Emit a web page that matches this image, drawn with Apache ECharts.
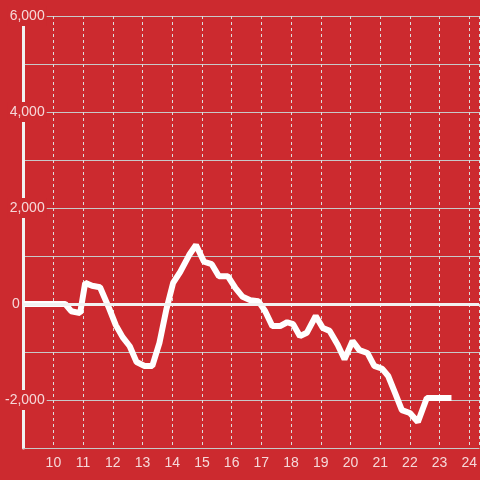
<!DOCTYPE html>
<html>
<head>
<meta charset="utf-8">
<script src="https://cdn.jsdelivr.net/npm/echarts@6/dist/echarts.min.js"></script>
<style>html,body{margin:0;padding:0;background:#cc2a2f;}#c{width:480px;height:480px;}</style>
</head>
<body>
<div id="c"></div>
<script>
var hours = [9.0, 10.4, 10.6, 10.9, 11.07, 11.3, 11.57, 11.87, 12.1, 12.33, 12.57, 12.8, 13.07, 13.33, 13.57, 13.8, 14.03, 14.27, 14.57, 14.8, 15.07, 15.33, 15.57, 15.87, 16.13, 16.37, 16.63, 16.9, 17.13, 17.37, 17.63, 17.87, 18.07, 18.3, 18.53, 18.83, 19.07, 19.3, 19.57, 19.8, 20.07, 20.3, 20.57, 20.8, 21.07, 21.27, 21.5, 21.73, 22.0, 22.27, 22.57, 23.4];
var values = [0, 0, -150, -190, 440, 380, 350, -80, -440, -690, -880, -1210, -1290, -1290, -810, -120, 440, 670, 1020, 1230, 880, 830, 580, 580, 330, 150, 80, 60, -150, -460, -460, -380, -420, -670, -600, -250, -500, -560, -850, -1150, -770, -960, -1020, -1290, -1350, -1500, -1850, -2210, -2270, -2460, -1960, -1960];
var yLabels = [-2000, 0, 2000, 4000, 6000];

var BG = '#cc2a2f';
var TXT = 'rgba(255,255,255,0.82)';
var data = hours.map(function (h, i) { return [h, values[i]]; });
function fmt(v) { return v.toLocaleString('en-US'); }

var chart = echarts.init(document.getElementById('c'), null, {renderer: 'canvas'});
chart.setOption({
  backgroundColor: BG,
  animation: false,
  grid: {left: 20, right: 0, top: 16, bottom: 32, containLabel: false},
  xAxis: {
    type: 'value', min: 9, max: 24.33, interval: 1,
    axisLine: {show: true, onZero: false, lineStyle: {color: '#c8c8c8', width: 1}},
    axisTick: {show: false},
    splitLine: {show: true, lineStyle: {color: '#dddddd', width: 1, type: [3, 3]}},
    axisLabel: {
      color: TXT, fontSize: 14, fontFamily: 'Liberation Sans, Arial', margin: 8,
      showMaxLabel: false, showMinLabel: false,
      formatter: function (v) { return (Math.abs(v - Math.round(v)) < 1e-6 && v >= 10) ? String(Math.round(v)) : ''; }
    }
  },
  yAxis: {
    type: 'value', min: -3000, max: 6000, interval: 1000,
    axisLine: {show: true, lineStyle: {color: '#f2f2f2', width: 3}},
    axisTick: {show: false},
    splitLine: {show: true, lineStyle: {color: '#c8c8c8', width: 1}},
    axisLabel: {
      color: TXT, fontSize: 14, fontFamily: 'Liberation Sans, Arial', margin: -23,
      formatter: function (v) {
        if (yLabels.indexOf(v) < 0) return '';
        if (v === 0) return '{z|0}';
        return '{a|' + fmt(v) + '}';
      },
      rich: {
        a: {color: TXT, fontSize: 14, fontFamily: 'Liberation Sans, Arial', backgroundColor: BG, padding: [3, 2, 3, 2]},
        z: {color: TXT, fontSize: 14, fontFamily: 'Liberation Sans, Arial', padding: [0, 27, 0, 0]}
      }
    }
  },
  series: [{
    type: 'line', data: data, showSymbol: false, smooth: false,
    lineStyle: {color: '#ffffff', width: 6},
    z: 3,
    markLine: {
      silent: true, symbol: 'none', label: {show: false},
      lineStyle: {color: '#f2f2f2', width: 3, type: 'solid'},
      data: [{yAxis: 0}]
    }
  }]
});
</script>
</body>
</html>
